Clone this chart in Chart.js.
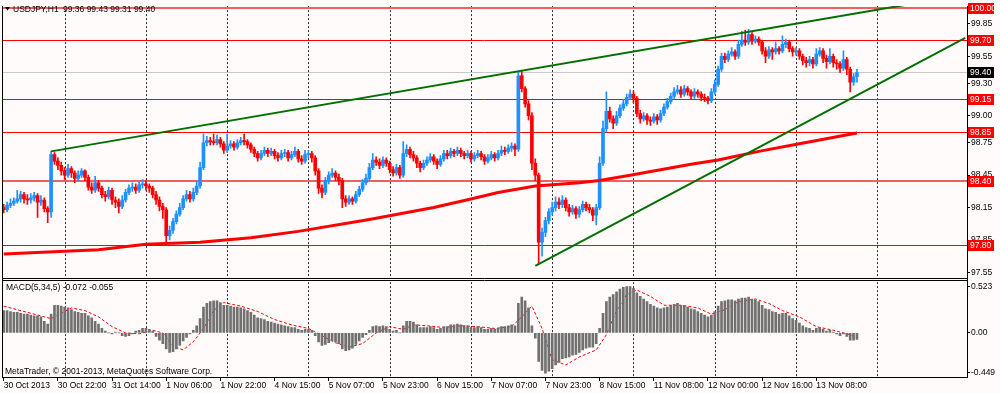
<!DOCTYPE html>
<html>
<head>
<meta charset="utf-8">
<script src="https://cdn.jsdelivr.net/npm/chart.js@4.4.0/dist/chart.umd.min.js"></script>
<style>
  html, body { margin: 0; padding: 0; background: #fffbfa; }
  canvas { display: block; }
</style>
</head>
<body>
<canvas id="chart" width="1000" height="393"></canvas>
<script>
// USDJPY H1, 30 Oct - 13 Nov 2013
const opens = [
  98.15, 98.13, 98.17, 98.19, 98.21, 98.23, 98.27, 98.23, 98.22, 98.24,
  98.26, 98.20, 98.22, 98.14, 98.11, 98.64, 98.58, 98.54, 98.49, 98.45,
  98.51, 98.47, 98.42, 98.45, 98.49, 98.43, 98.34, 98.31, 98.38, 98.33,
  98.27, 98.25, 98.31, 98.22, 98.20, 98.16, 98.22, 98.29, 98.33, 98.34,
  98.31, 98.36, 98.37, 98.35, 98.33, 98.27, 98.22, 98.16, 98.13, 97.89,
  97.94, 98.02, 98.09, 98.15, 98.23, 98.27, 98.23, 98.29, 98.35, 98.52,
  98.75, 98.77, 98.76, 98.75, 98.78, 98.74, 98.68, 98.72, 98.74, 98.71,
  98.75, 98.77, 98.76, 98.73, 98.69, 98.65, 98.61, 98.65, 98.68, 98.65,
  98.67, 98.63, 98.61, 98.65, 98.66, 98.61, 98.64, 98.67, 98.60, 98.58,
  98.64, 98.65, 98.61, 98.49, 98.33, 98.29, 98.40, 98.45, 98.47, 98.43,
  98.40, 98.23, 98.20, 98.23, 98.21, 98.27, 98.32, 98.38, 98.42, 98.52,
  98.59, 98.57, 98.54, 98.59, 98.56, 98.50, 98.47, 98.52, 98.45, 98.65,
  98.69, 98.64, 98.61, 98.56, 98.52, 98.56, 98.59, 98.62, 98.58, 98.55,
  98.60, 98.65, 98.63, 98.67, 98.65, 98.68, 98.65, 98.63, 98.65, 98.60,
  98.63, 98.65, 98.62, 98.58, 98.61, 98.64, 98.61, 98.65, 98.68, 98.67,
  98.70, 98.72, 98.69, 99.37, 99.25, 99.11, 99.00, 98.56, 98.45, 97.83,
  97.92, 98.03, 98.11, 98.15, 98.20, 98.18, 98.22, 98.15, 98.11, 98.14,
  98.09, 98.13, 98.18, 98.15, 98.13, 98.08, 98.15, 98.56, 98.88, 99.04,
  98.97, 98.93, 99.00, 99.07, 99.11, 99.17, 99.20, 99.16, 99.02, 98.97,
  99.00, 98.96, 98.95, 98.99, 98.96, 99.02, 99.08, 99.13, 99.18, 99.22,
  99.24, 99.20, 99.25, 99.22, 99.18, 99.22, 99.20, 99.17, 99.16, 99.14,
  99.22, 99.29, 99.43, 99.55, 99.52, 99.57, 99.59, 99.55, 99.66, 99.70,
  99.68, 99.75, 99.69, 99.71, 99.68, 99.60, 99.55, 99.61, 99.59, 99.62,
  99.60, 99.66, 99.68, 99.62, 99.59, 99.60, 99.55, 99.51, 99.49, 99.52,
  99.48, 99.57, 99.60, 99.53, 99.50, 99.55, 99.49, 99.48, 99.44, 99.52,
  99.43, 99.31, 99.36
];
const highs = [
  98.18, 98.20, 98.23, 98.24, 98.31, 98.30, 98.29, 98.27, 98.28, 98.29,
  98.28, 98.26, 98.24, 98.16, 98.67, 98.66, 98.61, 98.57, 98.52, 98.55,
  98.53, 98.49, 98.49, 98.51, 98.50, 98.45, 98.38, 98.44, 98.40, 98.35,
  98.30, 98.34, 98.33, 98.25, 98.23, 98.26, 98.32, 98.36, 98.38, 98.37,
  98.39, 98.41, 98.40, 98.37, 98.35, 98.30, 98.25, 98.19, 98.15, 97.98,
  98.05, 98.12, 98.19, 98.26, 98.31, 98.30, 98.33, 98.39, 98.57, 98.83,
  98.81, 98.80, 98.83, 98.82, 98.80, 98.76, 98.83, 98.77, 98.76, 98.78,
  98.80, 98.83, 98.78, 98.75, 98.71, 98.67, 98.68, 98.71, 98.70, 98.70,
  98.69, 98.66, 98.68, 98.69, 98.68, 98.67, 98.71, 98.69, 98.63, 98.68,
  98.68, 98.67, 98.63, 98.51, 98.36, 98.43, 98.48, 98.51, 98.49, 98.46,
  98.42, 98.26, 98.26, 98.25, 98.30, 98.35, 98.41, 98.46, 98.56, 98.65,
  98.62, 98.60, 98.62, 98.61, 98.58, 98.53, 98.55, 98.54, 98.76, 98.73,
  98.71, 98.67, 98.63, 98.58, 98.59, 98.62, 98.65, 98.64, 98.60, 98.63,
  98.68, 98.68, 98.70, 98.69, 98.71, 98.70, 98.67, 98.68, 98.67, 98.66,
  98.68, 98.67, 98.64, 98.64, 98.67, 98.66, 98.68, 98.72, 98.71, 98.73,
  98.75, 98.74, 99.41, 99.41, 99.27, 99.14, 99.03, 98.60, 98.47, 97.96,
  98.06, 98.14, 98.20, 98.25, 98.24, 98.26, 98.24, 98.18, 98.17, 98.16,
  98.16, 98.21, 98.20, 98.18, 98.15, 98.18, 98.62, 98.95, 99.22, 99.08,
  99.00, 99.04, 99.10, 99.15, 99.20, 99.24, 99.23, 99.18, 99.05, 99.03,
  99.02, 98.99, 99.02, 99.01, 99.05, 99.11, 99.16, 99.21, 99.26, 99.28,
  99.27, 99.28, 99.27, 99.24, 99.25, 99.24, 99.22, 99.20, 99.18, 99.25,
  99.33, 99.46, 99.58, 99.58, 99.60, 99.63, 99.61, 99.70, 99.78, 99.79,
  99.80, 99.77, 99.74, 99.73, 99.70, 99.63, 99.64, 99.63, 99.68, 99.64,
  99.74, 99.71, 99.70, 99.64, 99.63, 99.62, 99.57, 99.54, 99.55, 99.54,
  99.62, 99.63, 99.62, 99.56, 99.62, 99.57, 99.52, 99.50, 99.60, 99.54,
  99.45, 99.39, 99.43
];
const lows = [
  98.10, 98.11, 98.15, 98.17, 98.19, 98.20, 98.19, 98.18, 98.19, 98.21,
  98.06, 98.17, 98.11, 98.01, 98.06, 98.55, 98.50, 98.45, 98.41, 98.43,
  98.43, 98.38, 98.40, 98.43, 98.40, 98.31, 98.28, 98.29, 98.30, 98.24,
  98.21, 98.23, 98.18, 98.15, 98.10, 98.14, 98.20, 98.27, 98.30, 98.28,
  98.29, 98.33, 98.31, 98.29, 98.24, 98.18, 98.12, 98.05, 97.83, 97.85,
  97.91, 98.00, 98.07, 98.13, 98.21, 98.20, 98.21, 98.27, 98.33, 98.50,
  98.72, 98.73, 98.73, 98.73, 98.71, 98.65, 98.66, 98.70, 98.68, 98.69,
  98.73, 98.73, 98.70, 98.66, 98.62, 98.58, 98.59, 98.63, 98.62, 98.63,
  98.60, 98.58, 98.59, 98.62, 98.58, 98.59, 98.62, 98.57, 98.55, 98.56,
  98.61, 98.57, 98.45, 98.28, 98.24, 98.27, 98.37, 98.43, 98.40, 98.36,
  98.15, 98.16, 98.18, 98.18, 98.19, 98.25, 98.30, 98.36, 98.40, 98.50,
  98.54, 98.51, 98.52, 98.53, 98.47, 98.44, 98.45, 98.42, 98.43, 98.62,
  98.61, 98.58, 98.52, 98.48, 98.50, 98.54, 98.57, 98.55, 98.51, 98.53,
  98.58, 98.60, 98.61, 98.62, 98.63, 98.62, 98.60, 98.61, 98.57, 98.58,
  98.61, 98.59, 98.55, 98.56, 98.59, 98.58, 98.59, 98.63, 98.64, 98.65,
  98.67, 98.63, 98.67, 99.22, 99.08, 98.96, 98.50, 98.40, 97.63, 97.70,
  97.88, 98.00, 98.08, 98.12, 98.14, 98.15, 98.12, 98.07, 98.09, 98.05,
  98.06, 98.11, 98.12, 98.10, 98.03, 97.99, 98.13, 98.54, 98.85, 98.94,
  98.88, 98.91, 98.98, 99.05, 99.09, 99.15, 99.12, 98.99, 98.93, 98.95,
  98.92, 98.91, 98.93, 98.92, 98.94, 99.00, 99.06, 99.11, 99.16, 99.20,
  99.17, 99.18, 99.19, 99.15, 99.16, 99.17, 99.14, 99.13, 99.11, 99.12,
  99.20, 99.27, 99.41, 99.49, 99.50, 99.55, 99.52, 99.53, 99.64, 99.65,
  99.66, 99.66, 99.67, 99.65, 99.57, 99.49, 99.53, 99.52, 99.57, 99.57,
  99.58, 99.63, 99.59, 99.55, 99.56, 99.52, 99.47, 99.45, 99.46, 99.44,
  99.46, 99.55, 99.49, 99.44, 99.48, 99.45, 99.43, 99.40, 99.42, 99.38,
  99.22, 99.28, 99.31
];
const closes = [
  98.13, 98.17, 98.19, 98.21, 98.23, 98.27, 98.23, 98.22, 98.24, 98.26,
  98.20, 98.22, 98.14, 98.11, 98.64, 98.58, 98.54, 98.49, 98.45, 98.51,
  98.47, 98.42, 98.45, 98.49, 98.43, 98.34, 98.31, 98.38, 98.33, 98.27,
  98.25, 98.31, 98.22, 98.20, 98.16, 98.22, 98.29, 98.33, 98.34, 98.31,
  98.36, 98.37, 98.35, 98.33, 98.27, 98.22, 98.16, 98.13, 97.89, 97.94,
  98.02, 98.09, 98.15, 98.23, 98.27, 98.23, 98.29, 98.35, 98.52, 98.75,
  98.77, 98.76, 98.75, 98.78, 98.74, 98.68, 98.72, 98.74, 98.71, 98.75,
  98.77, 98.76, 98.73, 98.69, 98.65, 98.61, 98.65, 98.68, 98.65, 98.67,
  98.63, 98.61, 98.65, 98.66, 98.61, 98.64, 98.67, 98.60, 98.58, 98.64,
  98.65, 98.61, 98.49, 98.33, 98.29, 98.40, 98.45, 98.47, 98.43, 98.40,
  98.23, 98.20, 98.23, 98.21, 98.27, 98.32, 98.38, 98.42, 98.52, 98.59,
  98.57, 98.54, 98.59, 98.56, 98.50, 98.47, 98.52, 98.45, 98.65, 98.69,
  98.64, 98.61, 98.56, 98.52, 98.56, 98.59, 98.62, 98.58, 98.55, 98.60,
  98.65, 98.63, 98.67, 98.65, 98.68, 98.65, 98.63, 98.65, 98.60, 98.63,
  98.65, 98.62, 98.58, 98.61, 98.64, 98.61, 98.65, 98.68, 98.67, 98.70,
  98.72, 98.69, 99.37, 99.25, 99.11, 99.00, 98.56, 98.45, 97.83, 97.92,
  98.03, 98.11, 98.15, 98.20, 98.18, 98.22, 98.15, 98.11, 98.14, 98.09,
  98.13, 98.18, 98.15, 98.13, 98.08, 98.15, 98.56, 98.88, 99.04, 98.97,
  98.93, 99.00, 99.07, 99.11, 99.17, 99.20, 99.16, 99.02, 98.97, 99.00,
  98.96, 98.95, 98.99, 98.96, 99.02, 99.08, 99.13, 99.18, 99.22, 99.24,
  99.20, 99.25, 99.22, 99.18, 99.22, 99.20, 99.17, 99.16, 99.14, 99.22,
  99.29, 99.43, 99.55, 99.52, 99.57, 99.59, 99.55, 99.66, 99.70, 99.68,
  99.75, 99.69, 99.71, 99.68, 99.60, 99.55, 99.61, 99.59, 99.62, 99.60,
  99.66, 99.68, 99.62, 99.59, 99.60, 99.55, 99.51, 99.49, 99.52, 99.48,
  99.57, 99.60, 99.53, 99.50, 99.55, 99.49, 99.48, 99.44, 99.52, 99.43,
  99.31, 99.36, 99.40
];

// moving average, read at a few bars
const maBars   = [0, 28, 42, 58, 73, 87, 108, 127, 138, 146, 157, 170, 176, 185, 203, 211, 223, 235, 252];
const maValues = [97.72, 97.76, 97.81, 97.83, 97.87, 97.93, 98.04, 98.15, 98.23, 98.29, 98.35, 98.38, 98.40, 98.45, 98.55, 98.59, 98.67, 98.74, 98.84];

// trend lines (bar, price) at both ends
const trend1Bars = [14, 284];
const trend1Values = [98.67, 100.12];
const trend2Bars = [157, 284];
const trend2Values = [97.61, 99.72];

// horizontal levels
const levels = [100.00, 99.70, 99.15, 98.85, 98.40, 97.80];
const bidLevel = 99.40;

// MACD(5,34,5) main histogram and signal
const macdMain = [
  0.25, 0.25, 0.24, 0.23, 0.23, 0.22, 0.21, 0.21, 0.20, 0.19,
  0.19, 0.18, 0.13, 0.10, 0.21, 0.31, 0.31, 0.30, 0.29, 0.28,
  0.26, 0.24, 0.23, 0.22, 0.22, 0.19, 0.17, 0.13, 0.10, 0.05,
  0.02, 0.00, -0.01, 0.01, 0.00, -0.03, -0.04, -0.03, -0.01, 0.02,
  0.03, 0.05, 0.05, 0.04, 0.02, -0.04, -0.08, -0.12, -0.18, -0.22,
  -0.21, -0.18, -0.14, -0.09, -0.05, -0.01, 0.03, 0.08, 0.16, 0.29,
  0.33, 0.35, 0.36, 0.36, 0.34, 0.31, 0.31, 0.30, 0.29, 0.29,
  0.28, 0.27, 0.25, 0.23, 0.20, 0.17, 0.16, 0.15, 0.13, 0.12,
  0.11, 0.10, 0.09, 0.08, 0.07, 0.06, 0.06, 0.04, 0.03, 0.04,
  0.04, 0.03, -0.03, -0.10, -0.14, -0.13, -0.11, -0.09, -0.10, -0.12,
  -0.18, -0.20, -0.19, -0.17, -0.13, -0.09, -0.05, -0.02, 0.03, 0.07,
  0.08, 0.07, 0.08, 0.07, 0.04, 0.02, 0.03, 0.00, 0.08, 0.13,
  0.13, 0.12, 0.09, 0.06, 0.06, 0.06, 0.07, 0.06, 0.04, 0.05,
  0.07, 0.07, 0.09, 0.09, 0.10, 0.09, 0.08, 0.08, 0.06, 0.06,
  0.07, 0.06, 0.04, 0.04, 0.05, 0.04, 0.05, 0.07, 0.07, 0.08,
  0.09, 0.08, 0.33, 0.40, 0.36, 0.28, 0.08, -0.06, -0.32, -0.42,
  -0.45, -0.43, -0.40, -0.36, -0.33, -0.29, -0.28, -0.27, -0.25, -0.24,
  -0.22, -0.19, -0.17, -0.16, -0.16, -0.12, 0.05, 0.22, 0.35, 0.40,
  0.43, 0.46, 0.49, 0.51, 0.52, 0.52, 0.50, 0.45, 0.41, 0.38,
  0.35, 0.32, 0.30, 0.28, 0.27, 0.28, 0.29, 0.31, 0.32, 0.33,
  0.31, 0.31, 0.29, 0.27, 0.26, 0.24, 0.22, 0.20, 0.18, 0.20,
  0.24, 0.30, 0.35, 0.36, 0.37, 0.37, 0.36, 0.38, 0.39, 0.39,
  0.40, 0.38, 0.37, 0.35, 0.31, 0.27, 0.26, 0.24, 0.23, 0.21,
  0.22, 0.22, 0.19, 0.16, 0.14, 0.11, 0.08, 0.06, 0.05, 0.03,
  0.05, 0.06, 0.04, 0.02, 0.03, 0.01, -0.01, -0.03, -0.01, -0.04,
  -0.08, -0.08, -0.072
];
const signalBars = [0, 4, 8, 12, 14, 17, 20, 24, 28, 32, 36, 40, 44, 47, 50, 53, 56, 59, 62, 65, 70, 75, 80, 85, 90, 94, 98, 102, 106, 110, 114, 118, 121, 125, 130, 135, 140, 145, 150, 153, 156, 159, 162, 166, 170, 175, 178, 181, 184, 187, 191, 195, 200, 205, 209, 213, 217, 222, 226, 230, 235, 240, 245, 250, 252];
const signalValues = [0.30, 0.26, 0.22, 0.18, 0.16, 0.22, 0.28, 0.25, 0.18, 0.07, 0.00, -0.01, 0.03, 0.00, -0.15, -0.19, -0.10, 0.05, 0.25, 0.34, 0.30, 0.24, 0.15, 0.09, 0.05, -0.03, -0.11, -0.16, -0.12, 0.00, 0.07, 0.04, 0.09, 0.08, 0.06, 0.08, 0.07, 0.05, 0.07, 0.18, 0.30, 0.05, -0.30, -0.36, -0.27, -0.19, -0.02, 0.25, 0.43, 0.48, 0.41, 0.31, 0.31, 0.28, 0.21, 0.26, 0.35, 0.38, 0.33, 0.25, 0.18, 0.07, 0.03, -0.02, -0.055];

// axis ticks
const priceTicks = [99.85, 99.55, 99.30, 99.00, 98.75, 98.45, 98.15, 97.85, 97.55];
const macdTicks = [0.523, 0, -0.449];
const xTickBars = [0, 16, 32, 48, 64, 80, 96, 112, 128, 144, 160, 176, 192, 208, 224, 240];
const xTickText = ["30 Oct 2013", "30 Oct 22:00", "31 Oct 14:00", "1 Nov 06:00", "1 Nov 22:00", "4 Nov 15:00",
  "5 Nov 07:00", "5 Nov 23:00", "6 Nov 15:00", "7 Nov 07:00", "7 Nov 23:00", "8 Nov 15:00",
  "11 Nov 08:00", "12 Nov 00:00", "12 Nov 16:00", "13 Nov 08:00"];
const daySeparators = [18, 42, 66, 90, 114, 138, 162, 186, 210, 234, 258];

const SLOTS = 285; // bars plus empty shift area on the right
const labels = Array.from({ length: SLOTS }, (_, i) => String(i));

const BG = "#fffbfa";
const UP = "#1e90ff";
const DOWN = "#ff0000";
const FONT = { family: "Liberation Sans", size: 8.5 };
const candleColors = closes.map((c, i) => (c >= opens[i] ? UP : DOWN));
const pts = (bars, vals) => bars.map((b, i) => ({ x: String(b), y: vals[i] }));

const mtPlugin = {
  id: "mt",
  beforeDraw(chart) {
    const { ctx, width, height } = chart;
    ctx.save();
    ctx.fillStyle = BG;
    ctx.fillRect(0, 0, width, height);
    ctx.restore();
  },
  beforeDatasetsDraw(chart) {
    const { ctx, chartArea: a, scales: { x, y } } = chart;
    ctx.save();
    // day separators
    ctx.strokeStyle = "#2b2b2b";
    ctx.lineWidth = 1;
    ctx.setLineDash([2, 2]);
    daySeparators.forEach(b => {
      const px = Math.round(x.getPixelForValue(b)) + 0.5;
      ctx.beginPath();
      ctx.moveTo(px, a.top);
      ctx.lineTo(px, a.bottom);
      ctx.stroke();
    });
    ctx.setLineDash([]);
    // bid line
    let py = Math.round(y.getPixelForValue(bidLevel)) + 0.5;
    ctx.strokeStyle = "#c8c8c8";
    ctx.beginPath(); ctx.moveTo(a.left, py); ctx.lineTo(a.right, py); ctx.stroke();
    // level lines
    levels.forEach(v => {
      const thick = v === 100.00 || v === 98.40;
      ctx.strokeStyle = thick ? "#f06060" : "#ff0000";
      ctx.lineWidth = thick ? 2 : 1;
      py = Math.round(y.getPixelForValue(v)) + (thick ? 0 : 0.5);
      ctx.beginPath(); ctx.moveTo(a.left, py); ctx.lineTo(a.right, py); ctx.stroke();
    });
    ctx.restore();
  },
  afterDraw(chart) {
    const { ctx, chartArea: a, scales: { y } } = chart;
    ctx.save();
    // gap between the two panes
    const sep = Math.round(y.bottom);
    ctx.fillStyle = BG;
    ctx.fillRect(a.left, sep - 2, a.right - a.left, 3);
    ctx.strokeStyle = "#000";
    ctx.lineWidth = 1;
    ctx.beginPath();
    ctx.moveTo(a.left, sep - 1.5); ctx.lineTo(a.right, sep - 1.5);
    ctx.moveTo(a.left, sep + 0.5); ctx.lineTo(a.right, sep + 0.5);
    ctx.moveTo(a.left + 0.5, a.top); ctx.lineTo(a.left + 0.5, a.bottom);
    ctx.stroke();

    // price labels of the levels
    ctx.font = "8.5px 'Liberation Sans'";
    ctx.textBaseline = "middle";
    ctx.textAlign = "left";
    const tag = (v, bg) => {
      const py = Math.round(y.getPixelForValue(v));
      ctx.fillStyle = bg;
      ctx.fillRect(a.right + 1, py - 5, 26, 11);
      ctx.fillStyle = "#fff";
      ctx.fillText(v.toFixed(2), a.right + 3, py + 0.5);
    };
    levels.forEach(v => tag(v, "#ff0000"));
    tag(bidLevel, "#000");

    // captions
    ctx.fillStyle = "#000";
    ctx.textBaseline = "alphabetic";
    ctx.beginPath();
    ctx.moveTo(5, 7); ctx.lineTo(10, 7); ctx.lineTo(7.5, 10.5); ctx.closePath();
    ctx.fill();
    ctx.fillText("USDJPY,H1", 13, 12);
    ctx.fillText("99.36 99.43 99.31 99.40", 63, 12);
    ctx.fillText("MACD(5,34,5) -0.072 -0.055", 6, 290);
    ctx.fillText("MetaTrader, \u00a9 2001-2013, MetaQuotes Software Corp.", 5, 374);
    ctx.restore();
  }
};

new Chart(document.getElementById("chart"), {
  type: "bar",
  data: {
    labels,
    datasets: [
      { type: "line", label: "Trend 1", data: pts(trend1Bars, trend1Values), yAxisID: "y",
        borderColor: "#006f00", borderWidth: 2, pointRadius: 0 },
      { type: "line", label: "Trend 2", data: pts(trend2Bars, trend2Values), yAxisID: "y",
        borderColor: "#006f00", borderWidth: 2, pointRadius: 0 },
      { type: "line", label: "MA", data: pts(maBars, maValues), yAxisID: "y",
        borderColor: "#ff0000", borderWidth: 3, pointRadius: 0 },
      { label: "Bodies", data: opens.map((o, i) => [o, closes[i]]), yAxisID: "y",
        backgroundColor: candleColors, barThickness: 3, grouped: false, minBarLength: 1 },
      { label: "Wicks", data: lows.map((l, i) => [l, highs[i]]), yAxisID: "y",
        backgroundColor: candleColors, barThickness: 1, grouped: false },
      { label: "MACD", data: macdMain, yAxisID: "y2",
        backgroundColor: "#707070", barThickness: 2, grouped: false },
      { type: "line", label: "Signal", data: pts(signalBars, signalValues), yAxisID: "y2",
        borderColor: "#ff0000", borderWidth: 1, borderDash: [3, 2], pointRadius: 0 }
    ]
  },
  options: {
    responsive: false,
    animation: false,
    devicePixelRatio: 1,
    events: [],
    layout: { padding: { left: 2, top: 1, right: 0, bottom: 0 } },
    plugins: { legend: { display: false }, tooltip: { enabled: false } },
    scales: {
      x: {
        type: "category",
        offset: true,
        grid: { drawOnChartArea: false, drawTicks: true, tickLength: 4, offset: false, color: "#000" },
        border: { display: true, color: "#000" },
        ticks: {
          autoSkip: false, maxRotation: 0, align: "start", padding: 0, color: "#000", font: FONT,
          callback: (v, i) => xTickText[i]
        },
        afterBuildTicks: s => { s.ticks = xTickBars.map(v => ({ value: v })); },
        afterFit: s => { s.height = 16; }
      },
      y: {
        position: "right",
        stack: "panes",
        stackWeight: 278,
        min: 97.477,
        max: 100.014,
        grid: { drawOnChartArea: false, tickLength: 3, color: "#000" },
        border: { display: true, color: "#000" },
        ticks: { color: "#000", font: FONT, padding: 1, callback: v => v.toFixed(2) },
        afterBuildTicks: s => { s.ticks = priceTicks.map(v => ({ value: v })); },
        afterFit: s => { s.width = 33; }
      },
      y2: {
        position: "right",
        stack: "panes",
        stackWeight: 98,
        min: -0.494,
        max: 0.589,
        grid: { drawOnChartArea: false, tickLength: 3, color: "#000" },
        border: { display: true, color: "#000" },
        ticks: { color: "#000", font: FONT, padding: 1, callback: v => (v === 0 ? "0.00" : String(v)) },
        afterBuildTicks: s => { s.ticks = macdTicks.map(v => ({ value: v })); },
        afterFit: s => { s.width = 33; }
      }
    }
  },
  plugins: [mtPlugin]
});
</script>
</body>
</html>
